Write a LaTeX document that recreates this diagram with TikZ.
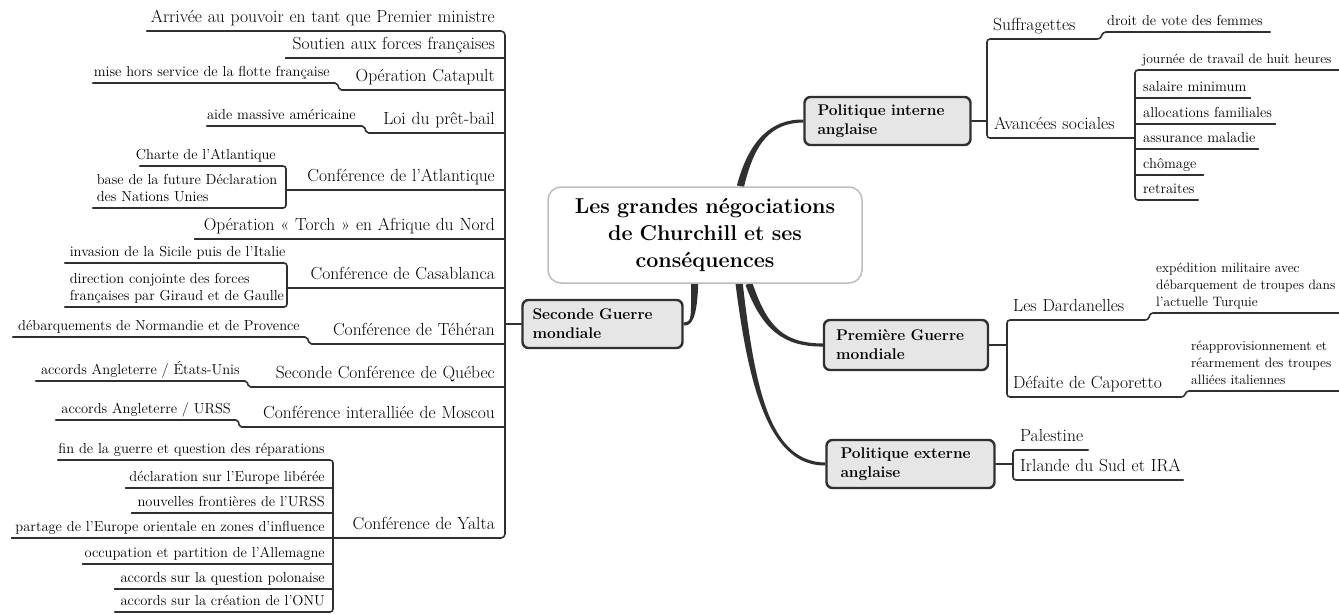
\documentclass[tikz,border=0pt]{standalone}
\usepackage{fontspec}
\usetikzlibrary{calc}
\pgfdeclarelayer{bg}
\pgfsetlayers{bg,main}
\definecolor{ink}{HTML}{303030}
\definecolor{topicfill}{HTML}{E6E6E6}
\definecolor{rootline}{HTML}{BDBDBD}
\newcommand\rtx[2][10]{\makebox[\linewidth][r]{#2\hspace*{#1pt}}}
\newcommand\ltx[2][7]{\makebox[\linewidth][l]{\hspace*{#1pt}#2}}
\newcommand\Litem[6]{\pgfmathsetmacro\itmw{#4-#3}\node[#2, anchor=south east, text width=\itmw pt] (#1) at (#4,#5) {#6};}
\newcommand\Ritem[6]{\pgfmathsetmacro\itmw{#4-#3}\node[#2, anchor=south west, text width=\itmw pt] (#1) at (#3,#5) {#6};}
% tapered branch: start, control 1, control 2, end
\newcommand\taper[4]{%
  \fill[ink] ($(#1)!3.6pt!90:(#2)$) .. controls ($(#2)!3pt!-90:(#1)$) and ($(#3)!2pt!90:(#4)$) .. ($(#4)!1.5pt!-90:(#3)$)
    -- ($(#4)!1.5pt!90:(#3)$) .. controls ($(#3)!2pt!-90:(#4)$) and ($(#2)!3pt!90:(#1)$) .. ($(#1)!3.6pt!-90:(#2)$) -- cycle;}
\begin{document}
\begin{tikzpicture}[x=1pt,y=-1pt,
  lone/.style={inner sep=0pt, font=\fontsize{17.5}{20}\selectfont, text depth=8.5pt},
  sub/.style={inner sep=0pt, font=\fontsize{14.5}{17}\selectfont, text depth=6.5pt},
  subtwo/.style={sub, text depth=23.5pt},
  subthree/.style={sub, text depth=40.5pt},
  edgesub/.style={font=\fontsize{13.6}{17}\selectfont},
  ul/.style={draw=ink, line width=1.6pt, line cap=round, line join=round},
  topic/.style={draw=ink, line width=2.4pt, fill=topicfill, rounded corners=6pt,
    font=\bfseries\fontsize{15.5}{19}\selectfont, align=left, inner ysep=0pt},
  rootbox/.style={draw=rootline, line width=1.5pt, fill=white, rounded corners=13pt,
    font=\bfseries\fontsize{21.5}{27}\selectfont, align=center, inner sep=0pt}
]
\begin{pgfonlayer}{bg}
\fill[white] (0,0) rectangle (1339,614);
\end{pgfonlayer}
\useasboundingbox (0,0) rectangle (1339,614);

% ---------- root and topics ----------
\node[rootbox, minimum width=314pt, minimum height=96pt, text width=304pt] (c) at (705,235)
  {Les grandes négociations\\de Churchill et ses\\conséquences};
\node[topic, minimum width=155pt, minimum height=48pt, text width=140pt, inner xsep=10pt] (sg) at (602.5,324)
  {Seconde Guerre\\mondiale};
\node[topic, minimum width=161pt, minimum height=48pt, text width=140pt, inner xsep=13pt] (pi) at (887.5,121)
  {Politique interne\\anglaise};
\node[topic, minimum width=158pt, minimum height=50pt, text width=140pt, inner xsep=12pt] (pg) at (906,345)
  {Première Guerre\\mondiale};
\node[topic, minimum width=165pt, minimum height=48pt, text width=140pt, inner xsep=14pt] (pe) at (910.5,464)
  {Politique externe\\anglaise};

% ---------- left side: Seconde Guerre mondiale ----------
\Litem{a1}{lone}{147}{505}{31}{\rtx{Arrivée au pouvoir en tant que Premier ministre}}
\Litem{a2}{lone}{286}{505}{58}{\rtx{Soutien aux forces françaises}}
\Litem{a3}{lone}{340}{505}{90}{\rtx{Opération Catapult}}
\Litem{s3}{sub}{93}{337}{83}{\rtx[7]{mise hors service de la flotte française}}
\Litem{a4}{lone}{367}{505}{133}{\rtx{Loi du prêt-bail}}
\Litem{s4}{sub}{207}{364}{126}{\rtx[8]{aide massive américaine}}
\Litem{a5}{lone}{286}{505}{190}{\rtx{Conférence de l'Atlantique}}
\Litem{s5a}{sub}{140}{286}{166}{\rtx[10]{Charte de l'Atlantique}}
\Litem{s5b}{subtwo}{93}{286}{208}{\ltx[4]{base de la future Déclaration}\\\ltx[4]{des Nations Unies}}
\Litem{a6}{lone}{195}{505}{239}{\rtx{Opération « Torch » en Afrique du Nord}}
\Litem{a7}{lone}{287}{505}{288}{\rtx{Conférence de Casablanca}}
\Litem{s7a}{sub}{65}{287}{263}{\ltx[5]{invasion de la Sicile puis de l'Italie}}
\Litem{s7b}{subtwo}{65}{287}{307}{\ltx[5]{direction conjointe des forces}\\\ltx[5]{françaises par Giraud et de Gaulle}}
\Litem{a8}{lone}{310}{505}{344}{\rtx{Conférence de Téhéran}}
\Litem{s8}{sub}{13}{307}{337}{\rtx[7]{débarquements de Normandie et de Provence}}
\Litem{a9}{lone}{249}{505}{387}{\rtx{Seconde Conférence de Québec}}
\Litem{s9}{sub}{36}{247}{381}{\rtx[7]{accords Angleterre / États-Unis}}
\Litem{a10}{lone}{240}{505}{427}{\rtx{Conférence interalliée de Moscou}}
\Litem{s10}{sub}{56}{238}{420}{\rtx[7]{accords Angleterre / URSS}}
\Litem{a11}{lone}{333}{505}{538}{\rtx{Conférence de Yalta}}
\Litem{y1}{sub}{58}{333}{460}{\rtx[8]{fin de la guerre et question des réparations}}
\Litem{y2}{sub}{126}{333}{488}{\rtx[8]{déclaration sur l'Europe libérée}}
\Litem{y3}{sub}{132}{333}{513}{\rtx[8]{nouvelles frontières de l'URSS}}
\Litem{y4}{sub}{12}{333}{538}{\rtx[8]{partage de l'Europe orientale en zones d'influence}}
\Litem{y5}{sub}{83}{333}{564}{\rtx[8]{occupation et partition de l'Allemagne}}
\Litem{y6}{sub}{115}{333}{589}{\rtx[8]{accords sur la question polonaise}}
\Litem{y7}{sub}{115}{333}{612}{\rtx[8]{accords sur la création de l'ONU}}

\draw[ul, rounded corners=4pt] (a1.south west) -- (a1.south east) -- (a11.south east) -- (a11.south west);
\foreach \n in {a2,a6,y2,y3,y4,y5,y6} \draw[ul] (\n.south west) -- (\n.south east);
\foreach \s/\p in {s3/a3,s4/a4,s8/a8,s9/a9,s10/a10}
  \draw[ul, rounded corners=2pt] (\s.south west) -- (\s.south east) -- (\p.south west) -- (\p.south east);
\draw[ul, rounded corners=3pt] (s5a.south west) -- (s5a.south east) -- (s5b.south east) -- (s5b.south west);
\draw[ul] (a5.south west) -- (a5.south east);
\draw[ul, rounded corners=3pt] (s7a.south west) -- (s7a.south east) -- (s7b.south east) -- (s7b.south west);
\draw[ul] (a7.south west) -- (a7.south east);
\draw[ul, rounded corners=3pt] (y1.south west) -- (y1.south east) -- (y7.south east) -- (y7.south west);
\draw[ul] (sg.west) -- (sg.west -| a1.south east);

% ---------- right side: Politique interne anglaise ----------
\Ritem{r1}{lone}{987}{1100}{39}{\ltx[6]{Suffragettes}}
\Ritem{rs1}{sub}{1103}{1270}{32}{\ltx[4]{droit de vote des femmes}}
\Ritem{r2}{lone}{987}{1135}{138}{\ltx[7]{Avancées sociales}}
\Ritem{j1}{sub,edgesub}{1135}{1345}{70}{\ltx[7]{journée de travail de huit heures}}
\Ritem{j2}{sub}{1135}{1250}{98}{\ltx[8]{salaire minimum}}
\Ritem{j3}{sub}{1135}{1275}{124}{\ltx[8]{allocations familiales}}
\Ritem{j4}{sub}{1135}{1258}{149}{\ltx[8]{assurance maladie}}
\Ritem{j5}{sub}{1135}{1203}{175}{\ltx[8]{chômage}}
\Ritem{j6}{sub}{1135}{1198}{200}{\ltx[8]{retraites}}
\draw[ul, rounded corners=3pt] (rs1.south east) -- (rs1.south west) -- (r1.south east) -- (r1.south west) -- (r2.south west) -- (r2.south east);
\draw[ul] (pi.east) -- (pi.east -| r2.south west);
\draw[ul, rounded corners=3pt] (j1.south east) -- (j1.south west) -- (j6.south west) -- (j6.south east);
\foreach \n in {j2,j3,j4,j5} \draw[ul] (\n.south west) -- (\n.south east);

% ---------- right side: Première Guerre mondiale ----------
\Ritem{r3}{lone}{1007}{1148}{320}{\ltx[6]{Les Dardanelles}}
\Ritem{rs3}{subthree,edgesub}{1150}{1345}{313}{\ltx[6]{expédition militaire avec}\\\ltx[6]{débarquement de troupes dans}\\\ltx[6]{l'actuelle Turquie}}
\Ritem{r4}{lone}{1007}{1184}{397}{\ltx[6]{Défaite de Caporetto}}
\Ritem{rs4}{subthree,edgesub}{1186}{1345}{391}{\ltx[5]{réapprovisionnement et}\\\ltx[5]{réarmement des troupes}\\\ltx[5]{alliées italiennes}}
\draw[ul, rounded corners=3pt] (rs3.south east) -- (rs3.south west) -- (r3.south east) -- (r3.south west) -- (r4.south west) -- (r4.south east) -- (rs4.south west) -- (rs4.south east);
\draw[ul] (pg.east) -- (pg.east -| r3.south west);

% ---------- right side: Politique externe anglaise ----------
\Ritem{r5}{lone}{1013}{1088}{450}{\ltx[7]{Palestine}}
\Ritem{r6}{lone}{1013}{1183}{480}{\ltx[7]{Irlande du Sud et IRA}}
\draw[ul, rounded corners=3pt] (r5.south east) -- (r5.south west) -- (r6.south west) -- (r6.south east);
\draw[ul] (pe.east) -- (pe.east -| r5.south west);

% ---------- main branches (tapered, behind the root box) ----------
\coordinate (k1) at (752,140); \coordinate (k2) at (772,121);
\coordinate (k3) at (694,318); \coordinate (k4) at (692,324);
\coordinate (k5) at (765,330); \coordinate (k6) at (785,345);
\coordinate (k7) at (752,390); \coordinate (k8) at (770,464);
\begin{pgfonlayer}{bg}
\taper{c.54}{k1}{k2}{pi.west}
\taper{c.258}{k3}{k4}{sg.east}
\taper{c.312}{k5}{k6}{pg.west}
\taper{c.305}{k7}{k8}{pe.west}
\end{pgfonlayer}
\end{tikzpicture}
\end{document}
